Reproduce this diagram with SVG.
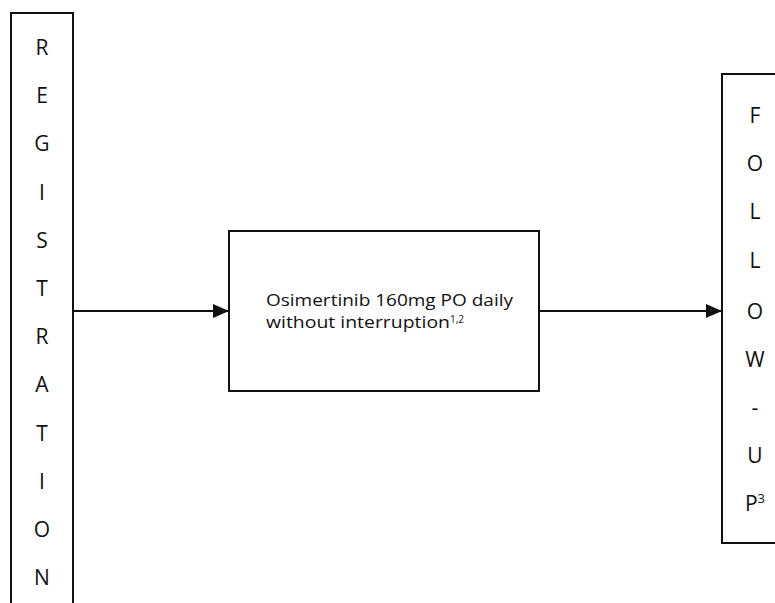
<svg xmlns="http://www.w3.org/2000/svg" width="775" height="603" viewBox="0 0 775 603">
<style>
.box{fill:#fff;stroke:#111;stroke-width:2}
.lt{font-family:"Open Sans","Liberation Sans",Arial,sans-serif;font-size:21px;fill:#111;text-anchor:middle}
.tx{font-family:"Open Sans","Liberation Sans",Arial,sans-serif;font-size:17px;fill:#111}
.cn{stroke:#111;stroke-width:2;fill:none}
</style>
<defs>
<marker id="ah" viewBox="0 0 16 14" refX="16" refY="7" markerWidth="16" markerHeight="14" markerUnits="userSpaceOnUse" orient="auto">
<path d="M0,0 L16,7 L0,14 Z" fill="#111"/>
</marker>
</defs>
<rect width="775" height="603" fill="#fff"/>
<g id="registration">
<rect class="box" x="11" y="13" width="62" height="600"/>
<text class="lt" x="42" y="55">R</text>
<text class="lt" x="42" y="103">E</text>
<text class="lt" x="42" y="151">G</text>
<text class="lt" x="42" y="200">I</text>
<text class="lt" x="42" y="248">S</text>
<text class="lt" x="42" y="296">T</text>
<text class="lt" x="42" y="344">R</text>
<text class="lt" x="42" y="392">A</text>
<text class="lt" x="42" y="441">T</text>
<text class="lt" x="42" y="489">I</text>
<text class="lt" x="42" y="537">O</text>
<text class="lt" x="42" y="585">N</text>
</g>
<g id="treatment">
<rect class="box" x="229" y="231" width="310" height="160"/>
<text class="tx" x="266" y="306" textLength="247" lengthAdjust="spacingAndGlyphs">Osimertinib 160mg PO daily</text>
<text class="tx" x="266" y="328"><tspan textLength="184" lengthAdjust="spacingAndGlyphs">without interruption</tspan><tspan dy="-5" font-size="10">1,2</tspan></text>
</g>
<g id="followup">
<rect class="box" x="722" y="74" width="70" height="469"/>
<text class="lt" x="755" y="123">F</text>
<text class="lt" x="755" y="171">O</text>
<text class="lt" x="755" y="219">L</text>
<text class="lt" x="755" y="268">L</text>
<text class="lt" x="755" y="319">O</text>
<text class="lt" x="755" y="367">W</text>
<text class="lt" x="755" y="415">-</text>
<text class="lt" x="755" y="463">U</text>
<text class="lt" x="755" y="511">P<tspan dy="-8" font-size="13">3</tspan></text>
</g>
<g id="connectors">
<line class="cn" x1="73" y1="311" x2="229" y2="311" marker-end="url(#ah)"/>
<line class="cn" x1="539" y1="311" x2="722" y2="311" marker-end="url(#ah)"/>
</g>
</svg>
